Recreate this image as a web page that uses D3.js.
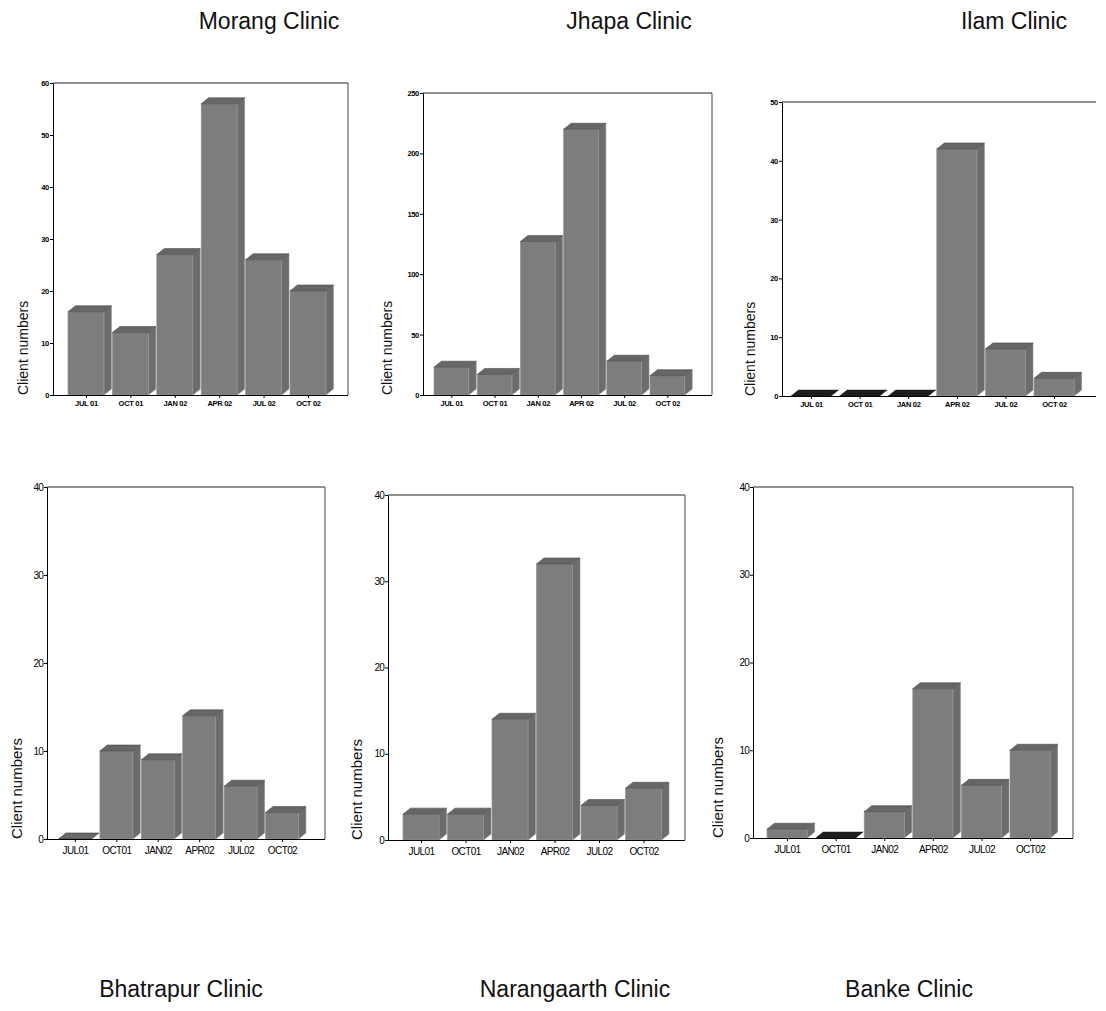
<!DOCTYPE html>
<html>
<head>
<meta charset="utf-8">
<script src="https://cdn.jsdelivr.net/npm/d3@7"></script>
<style>
  html, body { margin: 0; padding: 0; background: #fff; }
  text { font-family: 'Liberation Sans', Arial, sans-serif; }
</style>
</head>
<body>
<script>
// ---------- DATA ----------
const clinics = ["Morang Clinic", "Jhapa Clinic", "Ilam Clinic",
                 "Bhatrapur Clinic", "Narangaarth Clinic", "Banke Clinic"];
const monthsRow1 = ["JUL 01", "OCT 01", "JAN 02", "APR 02", "JUL 02", "OCT 02"];
const monthsRow2 = ["JUL01", "OCT01", "JAN02", "APR02", "JUL02", "OCT02"];
const morang      = [16, 12, 27, 56, 26, 20];
const jhapa       = [23, 17, 127, 220, 28, 16];
const ilam        = [0, 0, 0, 42, 8, 3];
const bhatrapur   = [0, 10, 9, 14, 6, 3];
const narangaarth = [3, 3, 14, 32, 4, 6];
const banke       = [1, 0, 3, 17, 6, 10];
const yMax  = [60, 250, 50, 40, 40, 40];
const yStep = [10, 50, 10, 10, 10, 10];
const yAxisTitle = "Client numbers";
const series = [morang, jhapa, ilam, bhatrapur, narangaarth, banke];

// ---------- LAYOUT (positions / styles only) ----------
const layout = [
  {axisX: 53,  top: 83,  zero: 395, right: 348,  band0: 68,   step: 44.4, row: 1, rightLine: true,  titleX: 269, labX: 28,  zeroFill: "#1c1c1c"},
  {axisX: 423, top: 93,  zero: 395, right: 712,  band0: 434,  step: 43.2, row: 1, rightLine: true,  titleX: 629, labX: 392, zeroFill: "#1c1c1c"},
  {axisX: 782, top: 102, zero: 396, right: 1096, band0: 791,  step: 48.6, row: 1, rightLine: false, titleX: 1014, labX: 755, zeroFill: "#1c1c1c"},
  {axisX: 47,  top: 487, zero: 839, right: 325,  band0: 58.5, step: 41.4, row: 2, rightLine: true,  titleX: 181, labX: 22,  zeroFill: "#6a6a6a"},
  {axisX: 388, top: 495, zero: 840, right: 685,  band0: 403,  step: 44.5, row: 2, rightLine: true,  titleX: 575, labX: 362, zeroFill: "#1c1c1c"},
  {axisX: 753, top: 487, zero: 838, right: 1073, band0: 767,  step: 48.6, row: 2, rightLine: true,  titleX: 909, labX: 723, zeroFill: "#1c1c1c"}
];
const depthX = 7.5, depthY = 6;
const frontFill = "#7d7d7d", sideFill = "#6c6c6c", topFill = "#666666";

const svg = d3.select("body").append("svg")
  .attr("width", 1106).attr("height", 1011);

layout.forEach((L, i) => {
  const vals = series[i];
  const labels = L.row === 1 ? monthsRow1 : monthsRow2;
  const g = svg.append("g");

  const y = d3.scaleLinear().domain([0, yMax[i]]).range([L.zero, L.top]);
  const x = d3.scaleBand().domain(labels)
    .range([L.band0, L.band0 + labels.length * L.step])
    .paddingInner(0).paddingOuter(0);
  const fw = x.bandwidth() - depthX - 1;
  const xl = d3.scalePoint().domain(labels)
    .range([L.band0 + fw / 2, L.band0 + (labels.length - 1) * L.step + fw / 2]);

  // frame (top + right)
  g.append("line").attr("x1", L.axisX).attr("x2", L.right)
    .attr("y1", L.top).attr("y2", L.top)
    .attr("stroke", "#222").attr("stroke-width", 1);
  if (L.rightLine) {
    g.append("line").attr("x1", L.right).attr("x2", L.right)
      .attr("y1", L.top).attr("y2", L.zero)
      .attr("stroke", "#444").attr("stroke-width", 1);
  }

  // bars
  const bars = g.append("g");
  vals.forEach((v, k) => {
    const m = labels[k];
    const x0 = x(m), yT = y(v), z = y(0);
    if (v > 0) {
      bars.append("polygon")
        .attr("points", [[x0 + fw, yT], [x0 + fw + depthX, yT - depthY],
                         [x0 + fw + depthX, z - depthY], [x0 + fw, z]].join(" "))
        .attr("fill", sideFill).attr("stroke", "#8a8a8a").attr("stroke-width", 0.6);
      bars.append("rect")
        .attr("x", x0).attr("y", yT).attr("width", fw).attr("height", z - yT)
        .attr("fill", frontFill).attr("stroke", "#959595").attr("stroke-width", 0.7);
      bars.append("polygon")
        .attr("points", [[x0, yT], [x0 + depthX, yT - depthY],
                         [x0 + fw + depthX, yT - depthY], [x0 + fw, yT]].join(" "))
        .attr("fill", topFill).attr("stroke", "#4a4a4a").attr("stroke-width", 0.6);
    } else {
      bars.append("polygon")
        .attr("points", [[x0, z], [x0 + depthX, z - depthY],
                         [x0 + fw + depthX, z - depthY], [x0 + fw, z]].join(" "))
        .attr("fill", L.zeroFill).attr("stroke", "#222").attr("stroke-width", 0.5);
    }
  });

  // y axis
  const fs = L.row === 1 ? 7.5 : 10;
  const ya = g.append("g").attr("transform", `translate(${L.axisX},0)`)
    .call(d3.axisLeft(y).tickValues(d3.range(0, yMax[i] + 1, yStep[i]))
      .tickSize(3).tickSizeOuter(0).tickPadding(1));
  ya.selectAll("text").attr("font-size", fs)
    .attr("font-weight", L.row === 1 ? "bold" : "normal")
    .attr("letter-spacing", L.row === 1 ? "-0.3px" : "-0.8px")
    .attr("fill", "#000");
  ya.selectAll("path, line").attr("stroke", "#000");

  // x axis
  const xa = g.append("g").attr("transform", `translate(0,${L.zero})`)
    .call(d3.axisBottom(xl).tickSize(3).tickSizeOuter(0).tickPadding(L.row === 1 ? 3 : 5));
  xa.select(".domain").remove();
  xa.append("line").attr("x1", L.axisX).attr("x2", L.right)
    .attr("y1", 0.5).attr("y2", 0.5).attr("stroke", "#000");
  xa.selectAll("text").attr("font-size", fs)
    .attr("font-weight", L.row === 1 ? "bold" : "normal")
    .attr("letter-spacing", L.row === 1 ? "-0.3px" : "-0.6px")
    .attr("fill", "#000");
  xa.selectAll(".tick line").attr("stroke", "#000");

  // y title
  g.append("text")
    .attr("transform", `translate(${L.labX},${L.zero}) rotate(-90)`)
    .attr("text-anchor", "start")
    .attr("font-size", L.row === 1 ? 14 : 15)
    .attr("fill", "#111")
    .text(yAxisTitle);

  // clinic title
  svg.append("text")
    .attr("x", L.titleX).attr("y", L.row === 1 ? 29 : 997)
    .attr("text-anchor", "middle")
    .attr("font-size", 23)
    .attr("fill", "#111")
    .text(clinics[i]);
});
</script>
</body>
</html>
